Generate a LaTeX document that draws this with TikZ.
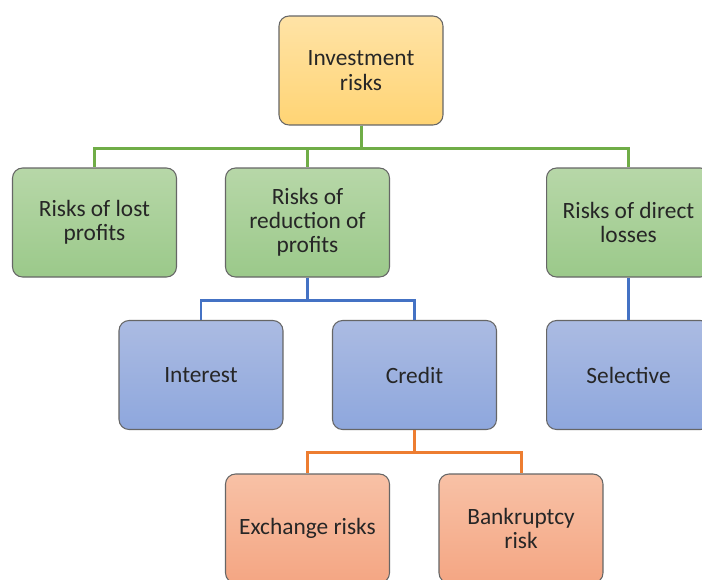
\documentclass[tikz,border=0pt]{standalone}
\usepackage{fontspec}
\setmainfont{Carlito}
\usepackage{xcolor}
\usetikzlibrary{positioning,calc}

\definecolor{topfill}{HTML}{FFE3A6}
\definecolor{topfillb}{HTML}{FFD474}
\definecolor{grnfill}{HTML}{B7D7A8}
\definecolor{grnfillb}{HTML}{9BC98A}
\definecolor{blufill}{HTML}{ABBBE2}
\definecolor{blufillb}{HTML}{8EA7DD}
\definecolor{orgfill}{HTML}{F8C1A6}
\definecolor{orgfillb}{HTML}{F4A683}
\definecolor{grnline}{HTML}{70AD47}
\definecolor{bluline}{HTML}{4472C4}
\definecolor{orgline}{HTML}{ED7D31}

\tikzset{
    riskbox/.style={draw=black!60, line width=0.6pt, rounded corners=0.2cm,
        minimum width=3.28cm, minimum height=2.18cm, align=center,
        font=\fontsize{13.3}{13.8}\selectfont, text=black!85},
    toprisk/.style={riskbox, top color=topfill, bottom color=topfillb},
    grnrisk/.style={riskbox, top color=grnfill, bottom color=grnfillb},
    blurisk/.style={riskbox, top color=blufill, bottom color=blufillb},
    orgrisk/.style={riskbox, top color=orgfill, bottom color=orgfillb},
    link/.style={line width=1.7pt}
}

\begin{document}
\begin{tikzpicture}[x=0.02cm, y=-0.02cm]
    \clip (0,0) rectangle (702,579);
    \fill[white] (0,0) rectangle (702,579);

    % Top level
    \node[toprisk] (inv) at (361,70.5) {Investment\\risks};

    % Second level
    \node[grnrisk] (lost) at (94.5,222.5) {Risks of lost\\profits};
    \node[grnrisk] (red)  at (307.5,222.5) {Risks of\\reduction of\\profits};
    \node[grnrisk] (dir)  at (628.5,222.5) {Risks of direct\\losses};

    % Third level
    \node[blurisk] (int)  at (201,375) {Interest};
    \node[blurisk] (cred) at (414.5,375) {Credit};
    \node[blurisk] (sel)  at (628.5,375) {Selective};

    % Fourth level
    \node[orgrisk] (exch) at (307.5,528.5) {Exchange risks};
    \node[orgrisk] (bank) at (521,528.5) {Bankruptcy\\risk};

    % Connectors
    \draw[link, grnline] (inv.south) -- ++(0,23) -| (lost.north);
    \draw[link, grnline] (inv.south) -- ++(0,23) -| (red.north);
    \draw[link, grnline] (inv.south) -- ++(0,23) -| (dir.north);

    \draw[link, bluline] (red.south) -- ++(0,23) -| (int.north);
    \draw[link, bluline] (red.south) -- ++(0,23) -| (cred.north);
    \draw[link, bluline] (dir.south) -- (sel.north);

    \draw[link, orgline] (cred.south) -- ++(0,22) -| (exch.north);
    \draw[link, orgline] (cred.south) -- ++(0,22) -| (bank.north);
\end{tikzpicture}
\end{document}
